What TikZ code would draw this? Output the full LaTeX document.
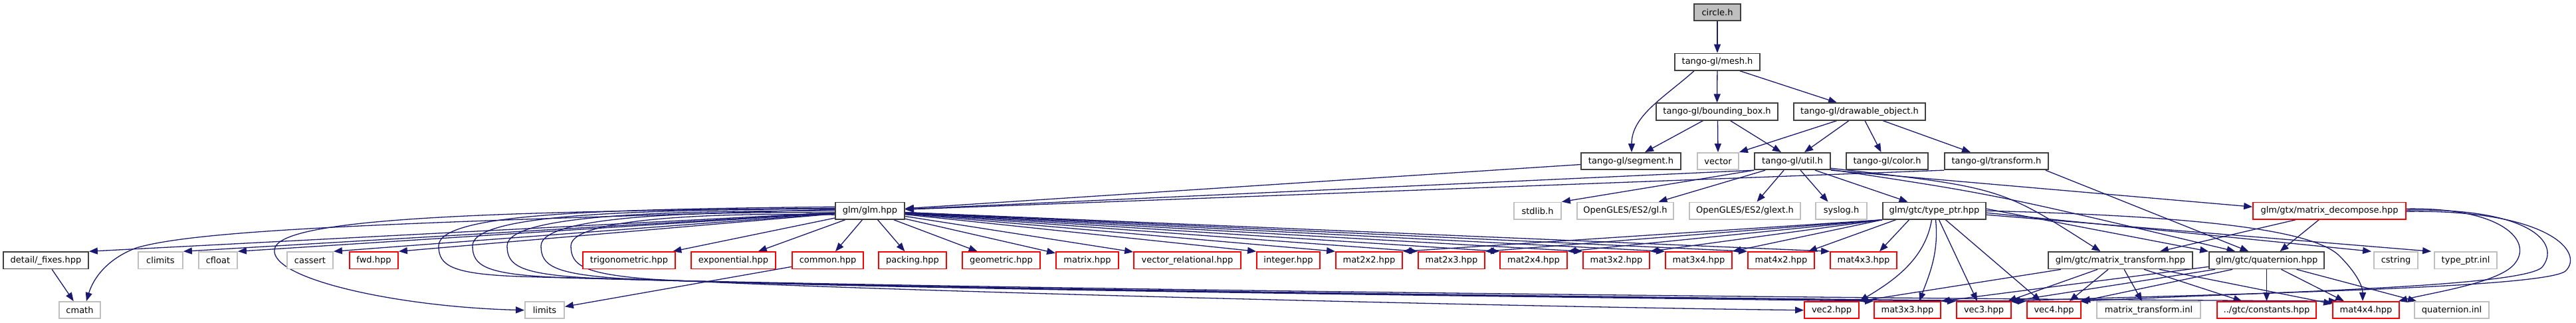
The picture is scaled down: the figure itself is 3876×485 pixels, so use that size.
\documentclass[tikz,border=0pt]{standalone}
\usepackage{fontspec}
\setmainfont{DejaVu Sans}
\usetikzlibrary{arrows.meta,backgrounds}
\definecolor{edgec}{HTML}{191970}
\definecolor{docc}{HTML}{404040}
\definecolor{extc}{HTML}{BFBFBF}
\definecolor{redc}{HTML}{FF0000}
\definecolor{rootf}{HTML}{BFBFBF}
\tikzset{
 nbase/.style={rectangle, minimum height=25.3, inner sep=0pt, line width=1.8pt, font=\fontsize{13pt}{15pt}\selectfont, anchor=center, fill=white},
 doc/.style={nbase, draw=docc},
 ext/.style={nbase, draw=extc},
 trunc/.style={nbase, draw=redc},
 root/.style={nbase, draw=docc, fill=rootf},
 e/.style={draw=edgec, line width=1.3pt, -{Triangle[length=13pt,width=10pt]}},
}
\newcommand\bx[6]{\node[#5, minimum width={#3-#2}] (#1) at ({(#2+#3)/2},#4) {#6};}
\begin{document}
\begin{tikzpicture}[x=1pt,y=-1pt]
\useasboundingbox (0,0) rectangle (3876,485);
% row 0-3
\bx{circle}{2549}{2619}{18.5}{root}{circle.h}
\bx{mesh}{2520}{2648}{93.2}{doc}{tango-gl/mesh.h}
\bx{bbox}{2492}{2675}{168}{doc}{tango-gl/bounding\_box.h}
\bx{drawable}{2699}{2897}{168}{doc}{tango-gl/drawable\_object.h}
\bx{segment}{2379}{2529}{242.6}{doc}{tango-gl/segment.h}
\bx{vector}{2554}{2616}{242.6}{ext}{vector}
\bx{util}{2640}{2754}{242.6}{doc}{tango-gl/util.h}
\bx{color}{2778}{2901}{242.6}{doc}{tango-gl/color.h}
\bx{transform}{2926}{3082}{242.6}{doc}{tango-gl/transform.h}
% row 4
\bx{glm}{1257}{1361}{317.2}{doc}{glm/glm.hpp}
\bx{stdlib}{2278}{2349}{317.2}{ext}{stdlib.h}
\bx{gl}{2373}{2518}{317.2}{ext}{OpenGLES/ES2/gl.h}
\bx{glext}{2542}{2709}{317.2}{ext}{OpenGLES/ES2/glext.h}
\bx{syslog}{2732}{2809}{317.2}{ext}{syslog.h}
\bx{typeptr}{2833}{2988}{317.2}{doc}{glm/gtc/type\_ptr.hpp}
\bx{decomp}{3390}{3620}{317.2}{trunc}{glm/gtx/matrix\_decompose.hpp}
% row 5
\bx{fixes}{5}{133}{391.8}{doc}{detail/\_fixes.hpp}
\bx{climits}{208}{275}{391.8}{ext}{climits}
\bx{cfloat}{299}{357}{391.8}{ext}{cfloat}
\bx{cassert}{432}{501}{391.8}{ext}{cassert}
\bx{fwd}{526}{599}{391.8}{trunc}{fwd.hpp}
\bx{trig}{877}{1016}{391.8}{trunc}{trigonometric.hpp}
\bx{expo}{1040}{1167}{391.8}{trunc}{exponential.hpp}
\bx{common}{1192}{1299}{391.8}{trunc}{common.hpp}
\bx{packing}{1322}{1424}{391.8}{trunc}{packing.hpp}
\bx{geometric}{1448}{1565}{391.8}{trunc}{geometric.hpp}
\bx{matrix}{1589}{1683}{391.8}{trunc}{matrix.hpp}
\bx{vecrel}{1706}{1867}{391.8}{trunc}{vector\_relational.hpp}
\bx{integer}{1891}{1986}{391.8}{trunc}{integer.hpp}
\bx{m22}{2010}{2110}{391.8}{trunc}{mat2x2.hpp}
\bx{m23}{2134}{2234}{391.8}{trunc}{mat2x3.hpp}
\bx{m24}{2257}{2358}{391.8}{trunc}{mat2x4.hpp}
\bx{m32}{2382}{2482}{391.8}{trunc}{mat3x2.hpp}
\bx{m34}{2506}{2606}{391.8}{trunc}{mat3x4.hpp}
\bx{m42}{2630}{2730}{391.8}{trunc}{mat4x2.hpp}
\bx{m43}{2754}{2854}{391.8}{trunc}{mat4x3.hpp}
\bx{mtrans}{3082}{3299}{391.8}{doc}{glm/gtc/matrix\_transform.hpp}
\bx{quat}{3324}{3497}{391.8}{doc}{glm/gtc/quaternion.hpp}
\bx{cstring}{3572}{3638}{391.8}{ext}{cstring}
\bx{tpinl}{3663}{3757}{391.8}{ext}{type\_ptr.inl}
% row 6
\bx{cmath}{89}{151}{466.7}{ext}{cmath}
\bx{limits}{790}{849}{466.7}{ext}{limits}
\bx{vec2}{2715}{2797}{466.7}{trunc}{vec2.hpp}
\bx{m33}{2820}{2920}{466.7}{trunc}{mat3x3.hpp}
\bx{vec3}{2944}{3026}{466.7}{trunc}{vec3.hpp}
\bx{vec4}{3050}{3131}{466.7}{trunc}{vec4.hpp}
\bx{mtinl}{3155}{3311}{466.7}{ext}{matrix\_transform.inl}
\bx{constants}{3336}{3485}{466.7}{trunc}{../gtc/constants.hpp}
\bx{m44}{3510}{3610}{466.7}{trunc}{mat4x4.hpp}
\bx{qinl}{3633}{3745}{466.7}{ext}{quaternion.inl}
\begin{scope}[on background layer]
% top part
\draw[e] (circle) -- (mesh);
\draw[e] ([xshift=-35pt]mesh.south) .. controls +(-45,40) and +(0,-55) .. ([xshift=1pt]segment.north);
\draw[e] (mesh) -- (bbox);
\draw[e] ([xshift=34pt]mesh.south) -- ([xshift=-34pt]drawable.north);
\draw[e] ([xshift=-21pt]bbox.south) -- ([xshift=21pt]segment.north);
\draw[e] ([xshift=1pt]bbox.south) -- ([xshift=0pt]vector.north);
\draw[e] ([xshift=20pt]bbox.south) -- ([xshift=-17pt]util.north);
\draw[e] ([xshift=-34pt]drawable.south) -- (vector.north east);
\draw[e] ([xshift=-16pt]drawable.south) -- ([xshift=18pt]util.north);
\draw[e] ([xshift=8pt]drawable.south) -- ([xshift=-9pt]color.north);
\draw[e] ([xshift=35pt]drawable.south) -- ([xshift=-39pt]transform.north);
\draw[e] (segment) -- (glm);
\draw[e] (transform.south west) -- (glm);
\draw[e] ([xshift=-5pt]transform.south east) -- ([xshift=-27pt]quat.north);
% util
\draw[e] (util.south west) -- (glm);
\draw[e] (util.south west) -- (stdlib.north east);
\draw[e] ([xshift=17pt]util.south west) -- ([xshift=50pt]gl.north);
\draw[e] ([xshift=45pt]util.south west) -- ([xshift=18pt]glext.north);
\draw[e] ([xshift=70pt]util.south west) -- ([xshift=-20pt]syslog.north);
\draw[e] ([xshift=92pt]util.south west) -- ([xshift=-40pt]typeptr.north);
\draw[e] (util.south east) -- ([yshift=6pt]decomp.west);
\draw[e] ([yshift=1pt]util.south east) .. controls (3000,292) .. ([xshift=-47pt]quat.north);
\draw[e] ([yshift=3pt]util.south east) .. controls (3010,282) .. ([xshift=-30pt]mtrans.north);
% glm
\draw[e] (glm) -- (fixes.north east);
\draw[e] ([yshift=2pt]glm.west) .. controls (600,335) and (300,345) .. (205,373) .. controls (160,390) and (140,420) .. ([xshift=10pt]cmath.north);
\draw[e] (glm) -- (climits.north east);
\draw[e] (glm) -- (cfloat.north east);
\draw[e] (glm) -- (cassert.north east);
\draw[e] (glm) -- (fwd.north east);
\draw[e] ([yshift=4pt]glm.west) .. controls (700,318) and (420,330) .. (413,375) .. controls (406,420) and (600,462) .. (limits.west);
\draw[e] ([yshift=6pt]glm.west) .. controls (910,315) and (660,320) .. (660,370) .. controls (660,400) and (680,412) .. (780,416) .. controls (1300,432) and (2600,448) .. ([xshift=8pt]m44.north west);
\draw[e] ([yshift=3pt]glm.west) .. controls (961,316) and (711,321) .. (711,370) .. controls (711,400) and (731,412) .. (831,417) .. controls (1300,433) and (2400,447) .. (vec4.north west);
\draw[e] ([yshift=0pt]glm.west) .. controls (1013,317) and (763,322) .. (763,370) .. controls (763,400) and (783,412) .. (883,418) .. controls (1300,434) and (2300,446) .. (vec3.north west);
\draw[e] ([yshift=-3pt]glm.west) .. controls (1064,318) and (814,323) .. (814,370) .. controls (814,400) and (834,412) .. (934,419) .. controls (1300,435) and (2200,445) .. (m33.north west);
\draw[e] ([yshift=-6pt]glm.west) .. controls (1109,320) and (859,325) .. (859,370) .. controls (859,400) and (879,412) .. (979,420) .. controls (1300,438) and (2300,462) .. (vec2.west);
\draw[e] (glm) -- (trig);
\draw[e] (glm) -- (expo);
\draw[e] (glm) -- (common);
\draw[e] (glm) -- (packing);
\draw[e] (glm) -- (geometric);
\draw[e] (glm) -- (matrix);
\draw[e] (glm) -- (vecrel);
\draw[e] (glm) -- (integer.north west);
\draw[e] (glm) -- (m22.north west);
\draw[e] (glm) -- (m23.north west);
\draw[e] (glm) -- (m24.north west);
\draw[e] (glm) -- (m32.north west);
\draw[e] (glm) -- (m34.north west);
\draw[e] (glm) -- (m42.north west);
\draw[e] (glm) -- (m43.north west);
\draw[e] (fixes) -- (cmath);
\draw[e] (common) -- (limits);
% type_ptr
\draw[e] (typeptr.south west) -- (m22.north east);
\draw[e] (typeptr.south west) -- (m23.north east);
\draw[e] (typeptr.south west) -- (m24.north east);
\draw[e] (typeptr.south west) -- (m32.north east);
\draw[e] (typeptr.south west) -- (m34.north east);
\draw[e] ([xshift=-58pt]typeptr.south) -- ([xshift=-10pt]m42.north east);
\draw[e] ([xshift=-38pt]typeptr.south) -- ([xshift=24pt]m43.north);
\draw[e] ([xshift=-4pt]typeptr.south) .. controls +(-10,60) and +(50,-30) .. (vec2.north east);
\draw[e] ([xshift=2pt]typeptr.south) .. controls +(5,50) and +(15,-40) .. ([xshift=-33pt]m33.north east);
\draw[e] ([xshift=7pt]typeptr.south) -- ([xshift=-10pt]vec3.north);
\draw[e] ([xshift=17pt]typeptr.south) -- ([xshift=-20pt]vec4.north);
\draw[e] ([yshift=3pt]typeptr.east) -- (quat.north west);
\draw[e] (typeptr.east) .. controls (3300,325) and (3480,345) .. (3520,385) .. controls (3545,410) and (3555,430) .. ([xshift=-5pt]m44.north);
\draw[e] ([yshift=-3pt]typeptr.east) -- ([xshift=-3pt]cstring.north west);
\draw[e] ([yshift=-6pt]typeptr.east) -- ([xshift=-4pt]tpinl.north west);
% matrix_transform
\draw[e] ([xshift=20pt]mtrans.south west) -- (vec2.north east);
\draw[e] ([xshift=75pt]mtrans.south west) -- ([xshift=-6pt]vec3.north east);
\draw[e] ([xshift=91pt]mtrans.south west) -- ([xshift=-18pt]vec4.north east);
\draw[e] ([xshift=115pt]mtrans.south west) -- ([xshift=-10pt]mtinl.north);
\draw[e] ([xshift=145pt]mtrans.south west) -- ([xshift=-37pt]constants.north);
\draw[e] ([xshift=168pt]mtrans.south west) -- ([yshift=-4pt]m44.north west);
% quaternion
\draw[e] ([yshift=4pt]quat.south west) -- (m33.north east);
\draw[e] ([xshift=10pt]quat.south west) -- (vec3.north east);
\draw[e] ([xshift=36pt]quat.south west) -- (vec4.north east);
\draw[e] (quat.south) -- (constants.north);
\draw[e] ([xshift=22pt]quat.south) -- ([xshift=-33pt]m44.north);
\draw[e] ([xshift=45pt]quat.south) -- ([xshift=4pt]qinl.north west);
% matrix_decompose
\draw[e] ([xshift=65pt]decomp.south west) -- ([xshift=-50pt]mtrans.north east);
\draw[e] ([xshift=100pt]decomp.south west) -- ([xshift=20pt]quat.north);
\draw[e] ([yshift=3pt]decomp.east) .. controls (3765,312) and (3810,362) .. (3785,395) .. controls (3765,425) and (3660,440) .. ([xshift=-2pt]m44.north east);
\draw[e] ([yshift=1pt]decomp.east) .. controls (3805,312) and (3855,365) .. (3825,402) .. controls (3795,432) and (3400,440) .. ([xshift=-3pt]vec4.north east);
\draw[e] ([yshift=-1pt]decomp.east) .. controls (3835,315) and (3890,380) .. (3860,408) .. controls (3825,435) and (3300,443) .. ([xshift=-3pt]vec3.north east);
\end{scope}
\end{tikzpicture}
\end{document}
